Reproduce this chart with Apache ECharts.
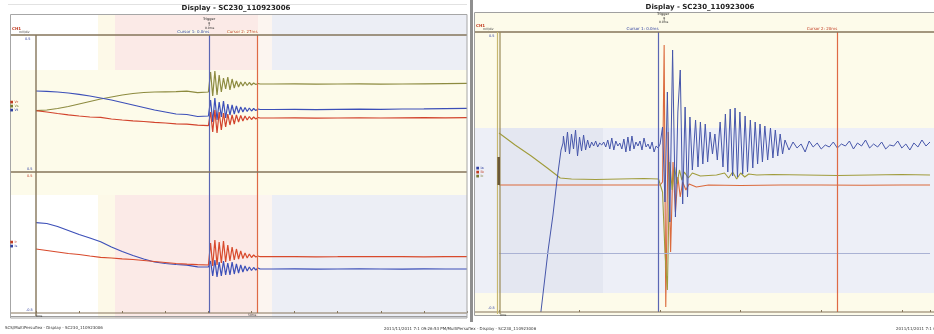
<!DOCTYPE html>
<html>
<head>
<meta charset="utf-8">
<script src="https://cdn.jsdelivr.net/npm/echarts@6/dist/echarts.min.js"></script>
<style>
html,body{margin:0;padding:0;background:#fff;}
#c{width:934px;height:334px;}
</style>
</head>
<body>
<div id="c"></div>
<script>
// ---------- data ----------
const titleText = 'Display - SC230_110923006';
// left panel time base (shared by all left traces)
const tL = [0,0.25,0.5,0.75,1,1.25,1.5,1.75,2,2.25,2.5,2.75,3,3.25,3.5,3.75,4,
  4.05,4.1,4.15,4.2,4.25,4.3,4.35,4.4,4.45,4.5,4.55,4.6,4.65,4.7,4.75,4.8,4.85,4.9,4.95,5,5.05,5.1,5.15,5.2,
  5.5,6,6.5,7,7.5,8,8.5,9,9.5,10];
// left upper plot
const upBlue = [81,80.7,80,79,77.7,76,74,72,69.5,67,64.5,62,60,58,57.5,55.5,56,
  72,50,74,52,70,55,71,54,68,57,67,58,66,59,65,60,64.5,60.5,64,61,63.5,61.5,63,62.5,
  62.5,62.6,62.4,62.6,62.8,62.7,63,63.1,63.3,63.6];
const upOlive = [61.3,62,63.5,65.5,68,70.5,73,75,77,78.5,79.5,80,80.2,80.3,80.8,79.4,80,
  100,76,101,77,97,80,94,83,95,82,93,84,91,85,90,86,90,86.5,89.5,87,89,87.5,88.5,88,
  88,88.2,87.8,88,88.1,87.9,88,88.2,88.4,88.6];
const upRed = [61.3,60,58.5,57.2,56,55,54.6,53,52,51.2,50.5,49.7,49,48.2,47.8,46.8,46.3,
  60,40,62,39,60,42,59,45,58,47,57,48,57,50,56.5,51,56,52,55.5,52.5,55,53,54.5,54,
  54,54.1,53.9,54,54.2,54,54.1,54.3,54.2,54.3];
// left lower plot
const loBlue = [90.3,89.5,86.5,82.5,78.5,75,71.3,66,61.5,57.5,54,51,49.5,48.5,47.8,46.2,46,
  52,37,53,36,51,37,52,38,50,38,51,39,49,40,48,41,47,42,46,42.5,45.5,43,45,44,
  44,44.1,43.9,44,44.2,44,43.9,44.1,44,44];
const loRed = [64,62.5,61,59.5,58.5,57,55.7,55,54.2,53.5,52.5,51.5,50.5,49.5,48.8,48.3,48,
  70,47,73,48,71,50,72,51,68,52,66,53,64,54,62,54.5,60,55,59,55.5,58,56,57,56.3,
  56.3,56.4,56.2,56.3,56.5,56.3,56.4,56.2,56.3,56.3];
const cursorsL = [4.02, 5.14];

// right panel
const rBlueT = [0.52,0.61,0.67,0.72,0.77,0.795,
  0.8,0.825,0.85,0.875,0.9,0.925,0.95,0.975,1,1.025,1.05,1.075,1.1,1.125,1.15,1.175,1.2,1.225,1.25,1.275,1.3,1.325,1.35,1.375,1.4,1.425,1.45,1.475,1.5,1.525,1.55,1.575,1.6,1.625,1.65,1.675,1.7,1.725,1.75,1.775,1.8,1.825,1.85,1.875,1.9,1.925,1.95,1.975,
  2,2.03,2.06,2.09,2.12,2.155,2.19,2.22,2.25,2.28,2.31,2.34,2.37,2.4,2.44,2.47,2.5,2.53,2.56,2.59,2.62,2.65,2.68,2.71,
  2.745,2.78,2.81,2.84,2.87,2.9,2.93,2.96,2.99,3.025,3.055,3.085,3.12,3.15,3.18,3.21,3.24,3.27,3.3,3.335,3.37,3.4,3.43,3.46,3.49,3.52,
  3.55,3.6,3.65,3.7,3.75,3.8,3.85,3.9,3.95,4,4.05,4.1,4.15,4.2,4.25,4.3,4.35,4.4,4.45,4.5,4.55,4.6,4.65,4.7,4.75,4.8,4.85,4.9,4.95,5,5.05,5.1,5.15,5.2,5.25,5.3,5.35];
const rBlueV = [0,62,97,132,162,169,
  176,160,180,158,178,163,182,156,175,161,177,162,172,164,170,166,171,165,169,167,170,165,172,163,174,162,171,166,169,163,173,160,175,161,176,163,170,166,171,162,174,165,168,163,170,160,166,164,
  168,185,110,220,90,262,95,200,242,108,205,115,195,142,192,145,190,148,188,150,180,158,178,152,
  190,145,198,140,203,136,204,135,200,138,196,140,192,144,190,148,188,150,186,152,184,154,182,156,178,158,
  172,162,170,164,168,160,171,165,169,163,167,165,170,164,168,166,171,163,169,166,172,164,168,165,170,163,167,166,171,164,168,162,169,165,172,166,170];
const rOliveT = [0,0.2,0.4,0.6,0.76,0.9,1.2,1.5,1.8,1.98,2.03,2.06,2.09,2.12,2.15,2.18,2.21,2.24,2.27,2.3,2.35,2.4,2.5,2.7,2.8,2.85,2.9,2.95,3,3.05,3.1,3.2,3.4,3.8,4.2,4.6,5,5.35];
const rOliveV = [179,167,156,144,134,133,132.5,133,133.5,133,120,60,22,150,122,145,128,142,132,140,134,139,136,137,139,134,140,133,139,135,138,137,137.5,137,136.5,137,137.5,137];
const rRedT = [0,0.5,1,1.5,2,2.03,2.05,2.07,2.1,2.13,2.16,2.19,2.22,2.25,2.28,2.32,2.36,2.45,2.6,3,3.5,4,4.5,5,5.35];
const rRedV = [127,127,127,127,127,130,267,5,180,60,150,100,135,115,130,122,128,125,127,126.5,127,127,126.8,127,127];
const cursorsR = [1.98, 4.2];
const refLineR = [59];

// ---------- chart ----------
const pairs = (t, v) => t.map((x, i) => [x, v[i]]);
const F = 'DejaVu Sans';
const brown = '#85755a';

function cursorLines(vals, withLabel, lblNames) {
  return {
    silent: true, symbol: 'none', animation: false,
    data: vals.map((v, i) => ({
      xAxis: v,
      lineStyle: { color: i === 0 ? '#5a66b4' : '#df6a45', width: 1.2, type: 'solid' },
      label: withLabel ? {
        show: true, position: 'end', formatter: lblNames[i], fontSize: 4, fontFamily: F,
        color: i === 0 ? '#3040a0' : '#c03a20', align: 'right', distance: 1,
        backgroundColor: '#fdfbea'
      } : { show: false }
    }))
  };
}

function lineSeries(xi, data, color, width, extra) {
  return Object.assign({
    type: 'line', xAxisIndex: xi, yAxisIndex: xi, data: data, showSymbol: false,
    symbol: 'none', lineStyle: { color: color, width: width }, animation: false, z: 3
  }, extra || {});
}

const gr = [];
function rect(x, y, w, h, fill, z) { gr.push({ type: 'rect', shape: { x, y, width: w, height: h }, style: { fill }, z: z === undefined ? -10 : z, silent: true }); }
function line(x1, y1, x2, y2, stroke, lw, z) { gr.push({ type: 'line', shape: { x1, y1, x2, y2 }, style: { stroke, lineWidth: lw || 1 }, z: z === undefined ? 50 : z, silent: true }); }
function txt(x, y, s, size, color, opt) { gr.push({ type: 'text', x, y, style: Object.assign({ text: s, fontSize: size, fontFamily: F, fill: color }, opt || {}), z: 60, silent: true }); }

// ---- left panel chrome ----
rect(11, 15, 456, 303, '#fdfbea');
[[15, 70], [195, 318]].forEach(([a, b]) => {
  rect(11, a, 87, b - a, '#ffffff', -9);
  rect(98, a, 17, b - a, '#fdf9e8', -9);
  rect(115, a, 143, b - a, '#fbeae7', -9);
  rect(258, a, 14, b - a, '#fcf5f0', -9);
  rect(272, a, 195, b - a, '#eceef5', -9);
});
gr.push({ type: 'rect', shape: { x: 10.5, y: 14.5, width: 456.5, height: 303.5 }, style: { fill: 'none', stroke: '#a6a6a6', lineWidth: 1 }, z: 55, silent: true });
line(8, 4.5, 467, 4.5, '#e2e2e2', 1);
line(11, 35, 467, 35, brown, 1.4);
line(11, 172, 467, 172, brown, 1.4);
line(11, 313, 467, 313, brown, 1.2);
line(11, 316.5, 467, 316.5, '#9c9c9c', 1);
line(36, 35, 36, 316, brown, 1.4);
txt(236, 8, titleText, 7, '#222', { align: 'center', verticalAlign: 'middle', fontWeight: 'bold' });
// tiny labels left
txt(12, 27, 'CH1', 4, '#c03a20', { fontWeight: 'bold' });
txt(19, 31, 'mV/div', 3, '#333');
txt(25, 37, '0.5', 3.5, '#3040a0');
txt(10, 100, '\u25A0 Vr', 3.5, '#c03a20');
txt(10, 104, '\u25A0 Vs', 3.5, '#7a7a30');
txt(10, 108, '\u25A0 Vt', 3.5, '#3040a0');
txt(27, 167, '0.5', 3.5, '#3040a0');
txt(27, 174, '0.5', 3.5, '#c03a20');
txt(10, 240, '\u25A0 Ir', 3.5, '#c03a20');
txt(10, 244, '\u25A0 Is', 3.5, '#3040a0');
txt(26, 308, '-0.5', 3.5, '#3040a0');
txt(36, 315, '0ms', 3, '#333');
txt(248, 314, '50ms', 3, '#333');
txt(203, 17, 'Trigger', 3.5, '#222');
txt(207, 22, '\u2191', 5, '#222');
txt(205, 27, '0.0ms', 3, '#222');
txt(5, 326, 'SCS/MultiPersuflex - Display - SC230_110923006', 4, '#333');
txt(384, 327, '2011/11/2011 7:1 09:26:53 PM/MultiPersuflex - Display - SC230_110923006', 4, '#333');

// separator bar
rect(470, 0, 3, 322, '#8f8f8f', 40);

// ---- right panel chrome ----
rect(475, 13, 459, 302, '#fdfbea');
rect(475, 128, 459, 165, '#edeff7', -9);
rect(499, 128, 104, 165, '#e4e7f1', -8);
gr.push({ type: 'rect', shape: { x: 474.5, y: 12.5, width: 460, height: 303 }, style: { fill: 'none', stroke: '#a0a0a0', lineWidth: 1 }, z: 55, silent: true });
line(475, 32, 934, 32, brown, 1.4);
line(475, 312, 934, 312, brown, 1.2);
line(475, 315.5, 934, 315.5, '#9c9c9c', 1);
line(497.5, 32, 497.5, 314, '#c8b870', 1.2);
line(500, 32, 500, 314, '#9a8c58', 1.2);
line(498.7, 157, 498.7, 185, '#6a5838', 2.6);
txt(700, 7, titleText, 7, '#222', { align: 'center', verticalAlign: 'middle', fontWeight: 'bold' });
txt(476, 24, 'CH1', 4, '#c03a20', { fontWeight: 'bold' });
txt(483, 28, 'mV/div', 3, '#333');
txt(489, 34, '0.5', 3.5, '#3040a0');
txt(476, 166, '\u25A0 Ia', 3.5, '#3040a0');
txt(476, 170, '\u25A0 Ib', 3.5, '#c03a20');
txt(476, 174, '\u25A0 Ic', 3.5, '#7a7a30');
txt(488, 306, '-0.5', 3.5, '#3040a0');
txt(500, 314, '0ms', 3, '#333');
txt(657, 12, 'Trigger', 3.5, '#222');
txt(662, 17, '\u2191', 5, '#222');
txt(659, 21, '0.0ms', 3, '#222');
txt(896, 327, '2011/11/2011 7:1 09:2', 4, '#333');

const axisCommon = {
  axisLabel: { show: false }, splitLine: { show: false },
  axisLine: { show: false },
  axisTick: { show: true, inside: true, length: 2, lineStyle: { color: brown } }
};
const yCommon = { type: 'value', axisLabel: { show: false }, splitLine: { show: false }, axisLine: { show: false }, axisTick: { show: false } };

const option = {
  backgroundColor: '#ffffff',
  animation: false,
  grid: [
    { left: 36, top: 35, width: 431, height: 137 },
    { left: 36, top: 172, width: 431, height: 141 },
    { left: 499, top: 32, width: 431, height: 280 }
  ],
  xAxis: [
    Object.assign({ type: 'value', gridIndex: 0, min: 0, max: 10, interval: 1 }, axisCommon, { axisTick: { show: false } }),
    Object.assign({ type: 'value', gridIndex: 1, min: 0, max: 10, interval: 1 }, axisCommon),
    Object.assign({ type: 'value', gridIndex: 2, min: 0, max: 5.35, interval: 1 }, axisCommon)
  ],
  yAxis: [
    Object.assign({ gridIndex: 0, min: 0, max: 137 }, yCommon),
    Object.assign({ gridIndex: 1, min: 0, max: 141 }, yCommon),
    Object.assign({ gridIndex: 2, min: 0, max: 280 }, yCommon)
  ],
  graphic: { elements: gr },
  series: [
    lineSeries(0, pairs(tL, upOlive), '#8d8b40', 1.2, { markLine: cursorLines(cursorsL, true, ['Cursor 1: 0.0ms', 'Cursor 2: 27ms']) }),
    lineSeries(0, pairs(tL, upBlue), '#3c4fb8', 1.2),
    lineSeries(0, pairs(tL, upRed), '#d2432c', 1.2),
    lineSeries(1, pairs(tL, loBlue), '#3c4fb8', 1.2, { markLine: cursorLines(cursorsL, false) }),
    lineSeries(1, pairs(tL, loRed), '#d84a2c', 1.2),
    lineSeries(2, pairs(rRedT, rRedV), '#db6a3c', 1.1, {
      markLine: {
        silent: true, symbol: 'none', animation: false,
        data: refLineR.map(v => ({ yAxis: v, lineStyle: { color: '#aab2d4', width: 1, type: 'solid' }, label: { show: false } }))
      }
    }),
    lineSeries(2, pairs(rOliveT, rOliveV), '#a09c3c', 1.1),
    lineSeries(2, pairs(rBlueT, rBlueV), '#4656aa', 1, { markLine: cursorLines(cursorsR, true, ['Cursor 1: 0.0ms', 'Cursor 2: 20ms']) })
  ]
};
const chart = echarts.init(document.getElementById('c'), null, { renderer: 'canvas' });
chart.setOption(option);
</script>
</body>
</html>
